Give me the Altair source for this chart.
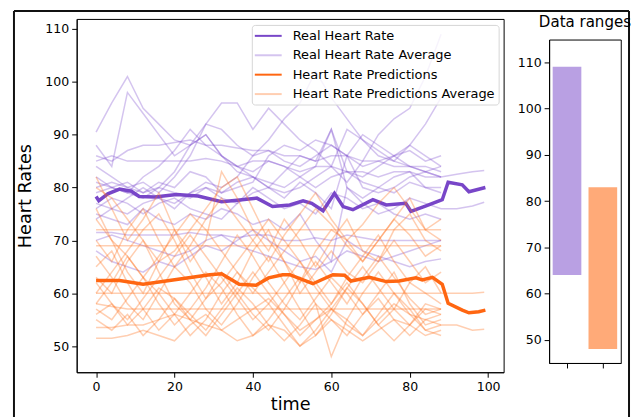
import altair as alt
import pandas as pd

# ---------------- data ----------------
grid_t = [0, 4, 8, 12, 16, 20, 24, 28, 32, 36, 40, 44, 48, 52, 56, 60, 64, 68, 72, 76, 80, 84, 88]
ext_t = [92, 96, 99]

real_lines = [
    [90.5, 96, 101, 95, 92, 89, 88, 90, 86, 84, 83, 85, 84, 82, 80, 82, 83, 81, 80, 82, 83, 80, 79],
    [88, 84, 98, 94, 90, 86, 88, 92, 91, 88, 86, 87, 85, 84, 86, 88, 86, 84, 85, 86, 84, 83, 84],
    [86, 85, 87, 88, 88, 88.5, 89, 88, 88, 87.5, 87, 87, 86, 86, 85, 86, 86, 85, 85, 84, 84, 84, 83],
    [85, 86, 85, 85, 85, 85, 85, 85.5, 85, 84, 85, 85, 84, 83, 84, 84, 83, 83, 82, 83, 83, 82, 82],
    [84, 82, 80, 81, 79, 82, 86, 92, 96, 96, 91, 95, 92, 89, 87, 84, 91, 89, 86, 85, 88, 86, 84],
    [80, 81, 80, 79, 80, 83, 88, 90, 86, 83, 82, 81, 80, 82, 84, 91, 83, 82, 84, 86, 88, 92, 97],
    [79, 80, 79, 78, 80, 79, 78, 80, 79, 81, 82, 80, 79, 80, 82, 84, 81, 85, 90, 93, 95, 101, 109],
    [77, 76, 75, 77, 78, 77, 79, 80, 78, 77, 79, 80, 78, 81, 79, 76, 86, 80, 79, 80, 82, 83, 82],
    [75, 74, 73, 76, 74, 73, 75, 74, 76, 75, 73, 74, 72, 75, 70, 66, 80, 77, 75, 76, 78, 77, 76],
    [71.5, 71.5, 71, 71, 71, 71, 71.5, 71, 71, 70.5, 71, 71, 70, 70, 70.5, 70, 71, 70.5, 70, 70, 70, 70, 70],
    [70, 71, 70, 69, 68, 67, 68, 70, 71, 69, 68, 67, 66, 65, 64.5, 66, 68, 67, 66, 67, 68, 69, 70],
    [68, 66, 65, 64, 66, 65, 67, 69, 68, 70, 72, 70, 68, 66, 67, 64, 70, 68, 67, 66, 65, 66, 66.5],
    [82, 80, 81, 79, 81, 80, 83, 82, 79, 80, 81, 86, 88, 87, 89, 88, 86, 90, 88, 86, 87, 85, 86],
    [81, 80, 79, 82, 84, 87, 91, 88, 86, 84, 82, 80, 83, 86, 85, 91, 80, 78, 80, 79, 81, 80, 80],
    [74, 76, 78, 80, 78, 76, 79, 81, 80, 82, 86, 89, 93, 96, 102, 97, 93, 89, 87, 85, 84, 83, 82],
    [76, 78, 77, 75, 77, 78, 76, 75, 74, 77, 80, 78, 76, 77, 75, 79, 78, 76, 77, 75, 74, 75, 74],
]
real_ext = {7: [82.5, 83, 83.2], 8: [76, 76.5, 77.2]}

pred_lines = [
    [82, 76, 70, 74, 79, 72, 66, 70, 83, 78, 72, 68, 74, 70, 65, 70, 74, 68, 66, 72, 75, 70, 68],
    [80, 78, 74, 70, 66, 68, 72, 76, 80, 82, 76, 70, 66, 62, 68, 72, 70, 66, 70, 74, 78, 72, 70],
    [76, 70, 64, 60, 66, 72, 68, 63, 58, 62, 68, 72, 66, 60, 64, 68, 64, 62, 66, 70, 66, 62, 64],
    [72, 72, 72, 72, 72, 72, 72, 72, 72, 72, 72, 72, 72, 72, 72, 72, 72, 72, 72, 72, 72, 72, 72],
    [69, 69, 69, 69, 69, 69, 69, 69, 69, 69, 69, 69, 69, 69, 69, 69, 69, 69, 69, 69, 69, 69, 69],
    [60, 60, 60, 60, 60, 60, 60, 60, 60, 60, 60, 60, 60, 60, 60, 60, 60, 60, 60, 60, 60, 60, 60],
    [58, 57.5, 57, 57, 57, 57, 57, 57, 57, 57, 57, 57, 57, 57, 57, 57, 57, 57, 57, 57, 57, 57, 57],
    [67, 63, 58, 55, 60, 65, 62, 57, 54, 58, 63, 67, 62, 57, 52, 56, 61, 58, 54, 57, 62, 60, 58],
    [65, 68, 62, 57, 53, 56, 60, 64, 61, 56, 52, 55, 59, 63, 58, 48, 55, 60, 64, 60, 56, 53, 52],
    [63, 60, 66, 70, 64, 58, 55, 59, 64, 60, 56, 53, 57, 62, 66, 62, 58, 63, 67, 63, 59, 56, 57],
    [58, 62, 67, 63, 58, 54, 57, 61, 66, 71, 67, 62, 58, 55, 59, 63, 60, 56, 60, 64, 58, 54, 55],
    [56, 58, 54, 57, 61, 59, 55, 52, 56, 60, 64, 60, 56, 52, 55, 58, 62, 58, 54, 51, 54, 58, 57],
    [55, 53, 56, 52, 55, 59, 56, 53, 57, 61, 58, 54, 51, 54, 58, 55, 52, 56, 59, 55, 52, 55, 54],
    [53.5, 53.5, 54, 54, 55, 56, 55, 54, 53, 55, 57, 59, 56, 53, 55, 57, 54, 52, 55, 58, 56, 55, 56],
    [51.5, 51.5, 52, 53, 52, 51, 54, 56, 53, 51, 52, 54, 53, 50, 52, 55, 53, 51, 53, 55, 54, 52, 53],
    [70, 66, 72, 76, 70, 65, 69, 74, 78, 74, 70, 66, 71, 75, 79, 74, 70, 73, 77, 80, 76, 72, 74],
    [60, 64, 68, 72, 75, 70, 64, 59, 62, 66, 70, 74, 70, 66, 62, 58, 63, 67, 71, 66, 62, 65, 60],
    [62, 58, 55, 59, 63, 67, 71, 67, 63, 59, 55, 58, 62, 66, 61, 57, 61, 65, 61, 57, 54, 57, 56],
    [57, 55, 59, 63, 60, 56, 52, 55, 60, 64, 61, 58, 54, 50, 53, 57, 55, 52, 56, 60, 57, 53, 54],
    [74, 70, 67, 63, 67, 71, 75, 72, 68, 64, 60, 64, 68, 72, 76, 73, 69, 66, 70, 74, 71, 67, 69],
]
pred_ext = {5: [60, 60, 60.2], 12: [54, 53, 53.2]}

real_avg_t = [0, 0.7, 3, 6, 9, 11, 15, 20.5, 26, 32, 36, 41, 45, 49.4, 52.8, 55, 57.9, 60.8,
              63, 65.5, 70.6, 74, 79, 80.3, 84, 88.3, 89.8, 93.4, 95.1, 99.3]
real_avg = [78.3, 77.5, 78.8, 79.7, 79.3, 78.3, 78.2, 78.7, 78.4, 77.3, 77.6, 78, 76.4, 76.7, 77.5, 77,
            75.6, 78.9, 76.4, 75.8, 77.7, 76.7, 77, 75.5, 76.5, 77.7, 81, 80.5, 79.2, 80]

pred_avg_t = [0, 6, 12, 20.5, 29, 32, 36.5, 40.8, 44, 47.6, 49.4, 55.3, 60.4, 63.4, 65, 69.7, 74,
              77.3, 81.6, 83.2, 85.8, 88.3, 89.8, 93.4, 95.1, 97.6, 99.3]
pred_avg = [62.4, 62.4, 61.7, 62.6, 63.5, 63.7, 61.7, 61.5, 62.9, 63.5, 63.5, 61.8, 63.5, 63.4, 62.3,
            63, 62.2, 62.3, 62.9, 62.5, 63, 61.7, 58.1, 56.8, 56.3, 56.5, 56.8]

series_labels = ["Real Heart Rate", "Real Heart Rate Average",
                 "Heart Rate Predictions", "Heart Rate Predictions Average"]
series_colors = ["#7846c8", "rgba(120, 70, 205, 0.32)", "#ff6611", "rgba(255, 110, 25, 0.34)"]

range_cats = ["Real", "Predicted"]
range_low = [64, 48]
range_high = [109, 83]
range_colors = ["#b9a0e3", "#ffaa78"]

# ---------------- table ----------------
rows = []
for i, vals in enumerate(real_lines):
    ts = grid_t + (ext_t if i in real_ext else [])
    vs = vals + real_ext.get(i, [])
    for t, v in zip(ts, vs):
        rows.append({"t": t, "hr": v, "series": series_labels[1], "line": f"r{i}"})
for t, v in zip(real_avg_t, real_avg):
    rows.append({"t": t, "hr": v, "series": series_labels[0], "line": "ravg"})
for i, vals in enumerate(pred_lines):
    ts = grid_t + (ext_t if i in pred_ext else [])
    vs = vals + pred_ext.get(i, [])
    for t, v in zip(ts, vs):
        rows.append({"t": t, "hr": v, "series": series_labels[3], "line": f"p{i}"})
for t, v in zip(pred_avg_t, pred_avg):
    rows.append({"t": t, "hr": v, "series": series_labels[2], "line": "pavg"})
df = pd.DataFrame(rows)

df_ranges = pd.DataFrame({"cat": range_cats, "low": range_low, "high": range_high})
df_one = pd.DataFrame({"k": [0]})

FONT = "DejaVu Sans"
TICK_FS = 12.6
xscale = alt.Scale(domain=[-4.95, 103.95], nice=False, zero=False)
yscale = alt.Scale(domain=[45.05, 111.9], nice=False, zero=False)
cscale = alt.Scale(domain=series_labels, range=series_colors)

legend = alt.Legend(
    title=None, orient="none", legendX=176, legendY=6,
    symbolType="M-2,0H2", symbolSize=182, symbolStrokeWidth=2,
    symbolOffset=5.5, labelOffset=16.5, labelLimit=400,
    labelFontSize=13, labelFont=FONT, labelColor="black",
    padding=3, rowPadding=4.5, fillColor="rgba(255,255,255,0.8)",
    strokeColor="#d6d6d6", cornerRadius=3,
)
x_axis = alt.Axis(values=[0, 20, 40, 60, 80, 100], title="time", tickSize=5,
                  labelFontSize=TICK_FS, labelPadding=3, titleFontSize=17.7,
                  titleFontWeight="normal", titlePadding=3, grid=False)
y_axis = alt.Axis(values=[50, 60, 70, 80, 90, 100, 110], title="Heart Rates", tickSize=5,
                  labelFontSize=TICK_FS, labelPadding=3, titleFontSize=17.7,
                  titleFontWeight="normal", titlePadding=10, grid=False)


def line_layer(name, width):
    return alt.Chart(df).transform_filter(alt.datum.series == name).mark_line(
        strokeWidth=width
    ).encode(
        x=alt.X("t:Q", scale=xscale, axis=x_axis),
        y=alt.Y("hr:Q", scale=yscale, axis=y_axis),
        color=alt.Color("series:N", scale=cscale, legend=legend),
        detail="line:N",
    )


FRAME = "#111111"


def frame_vertical(x, y1, y2):
    return alt.Chart(df_one).mark_rule(color=FRAME, strokeWidth=2, orient="vertical").encode(
        x=alt.value(x), y=alt.value(y1), y2=alt.value(y2))


def frame_horizontal(x1, x2, y):
    return alt.Chart(df_one).mark_rule(color=FRAME, strokeWidth=2, orient="horizontal").encode(
        x=alt.value(x1), x2=alt.value(x2), y=alt.value(y))


left = alt.layer(
    line_layer(series_labels[1], 1.5),
    line_layer(series_labels[0], 3.5),
    line_layer(series_labels[3], 1.5),
    line_layer(series_labels[2], 3.5),
    frame_vertical(-63, -8, 400),
    frame_horizontal(-63, 555, -8),
    frame_vertical(555, -8, 400),
).properties(width=429, height=355)

header = alt.Chart(df_one).mark_text(
    text="Data ranges", fontSize=15.1, font=FONT, fontWeight="normal", color="black",
    align="center", baseline="middle"
).encode(x=alt.value(36), y=alt.value(3.5)).properties(
    width=72, height=10, view=alt.ViewBackground(stroke="transparent"))

bars = alt.Chart(df_ranges).mark_bar().encode(
    x=alt.X("cat:N", sort=None, scale=alt.Scale(paddingInner=0.2, paddingOuter=0.1),
            axis=alt.Axis(labels=False, title=None, tickSize=5)),
    y=alt.Y("low:Q", scale=alt.Scale(domain=[45, 114.9], nice=False, zero=False),
            axis=alt.Axis(values=[50, 60, 70, 80, 90, 100, 110], title=None, tickSize=5,
                          labelFontSize=TICK_FS, labelPadding=3, grid=False)),
    y2="high:Q",
    color=alt.Color("cat:N", sort=None, scale=alt.Scale(domain=range_cats, range=range_colors),
                    legend=None),
).properties(width=72, height=325)

right = alt.vconcat(header, bars, spacing=10.7, bounds="flush")

chart = alt.hconcat(left, right, spacing=45.7, bounds="flush").resolve_scale(
    color="independent"
).properties(
    padding={"left": 4, "top": 0, "right": 0, "bottom": 0}
).configure(font=FONT).configure_view(stroke="black", strokeWidth=1).configure_axis(
    domainColor="black", tickColor="black", labelColor="black", titleColor="black",
    labelFont=FONT, titleFont=FONT,
)

chart.save("out.html", embed_options={"renderer": "svg", "actions": False})
